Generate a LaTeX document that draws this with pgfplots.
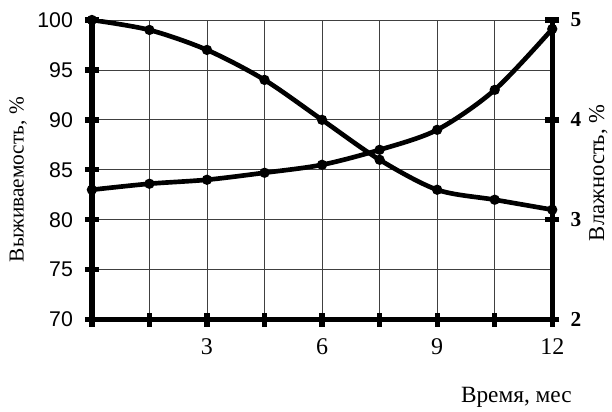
\documentclass[border=0pt]{standalone}
\usepackage{fontspec}
\setmainfont{Liberation Serif}
\newfontfamily\arial{Liberation Sans}
\usepackage{pgfplots}
\pgfplotsset{compat=1.18}
\begin{document}
\begin{tikzpicture}
\pgfplotsset{every axis/.append style={
  scale only axis, width=345.75pt, height=225pt,
  xmin=0, xmax=12,
  /pgf/number format/assume math mode=true,
  axis line style={line width=4pt, -},
  tick align=center, major tick length=10.5pt,
  every tick/.style={line width=4pt, black},
}}
\begin{axis}[
  at={(0,0)}, anchor=south west,
  axis x line*=bottom, axis y line*=left,
  ymin=70, ymax=100, ytick={70,75,...,100},
  xtick={0,1.5,...,12}, xticklabels={,,3,,6,,9,,12},
  grid=major, major grid style={black!75, line width=0.6pt},
  yticklabel style={font=\arial\fontsize{16}{17}\selectfont, xshift=-5.5pt},
  xticklabel style={font=\fontsize{18}{19}\selectfont, yshift=-5.5pt},
  ylabel={Выживаемость, \%},
  ylabel style={at={(axis description cs:-0.16,0.467)}, anchor=center, font=\fontsize{16}{17}\selectfont},
  xlabel={Время, мес},
  xlabel style={at={(axis description cs:0.922,-0.277)}, anchor=base, font=\fontsize{17.5}{18}\selectfont},
]
\addplot[black, line width=3.5pt, smooth, mark=*, mark size=2pt] coordinates {
 (0,100) (1.5,99) (3,97) (4.5,94) (6,90) (7.5,86) (9,83) (10.5,82) (12,81)
};
\end{axis}
\begin{axis}[
  at={(0,0)}, anchor=south west,
  axis y line*=right, axis x line=none,
  ymin=2, ymax=5, ytick={2,3,4,5},
  yticklabel style={font=\bfseries\fontsize{16}{17}\selectfont, xshift=5pt},
  ylabel={Влажность, \%},
  ylabel style={at={(axis description cs:1.10,0.49)}, anchor=center, font=\fontsize{17}{18}\selectfont},
]
\addplot[black, line width=3.5pt, smooth, mark=*, mark size=2pt] coordinates {
 (0,3.3) (1.5,3.36) (3,3.4) (4.5,3.47) (6,3.55) (7.5,3.7) (9,3.9) (10.5,4.3) (12,4.91)
};
\end{axis}
\path[use as bounding box] (-69pt,-64.5pt) rectangle (390pt,240pt);
\end{tikzpicture}
\end{document}
